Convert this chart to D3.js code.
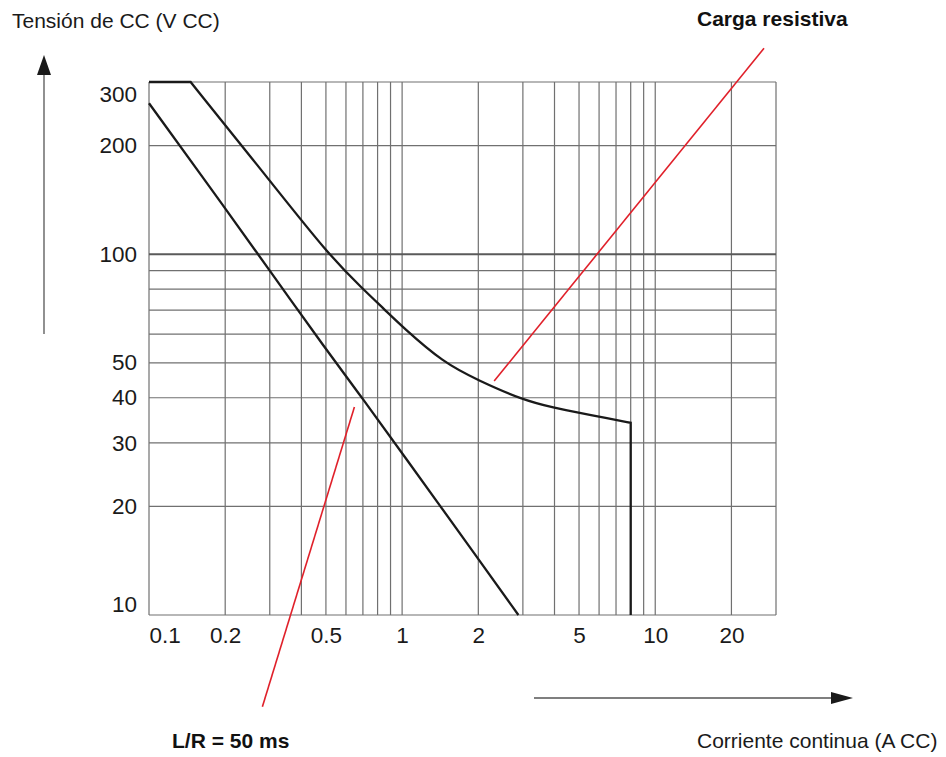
<!DOCTYPE html>
<html>
<head>
<meta charset="utf-8">
<script src="https://cdn.jsdelivr.net/npm/d3@7"></script>
<style>
  body { margin: 0; background: #fff; }
  svg { display: block; font-family: "Liberation Sans", Arial, sans-serif; }
</style>
</head>
<body>
<div id="chart"></div>
<script>
// tick labels and grid
const xTicks = [0.1, 0.2, 0.5, 1, 2, 5, 10, 20];
const yTicks = [10, 20, 30, 40, 50, 100, 200, 300];
const xGrid = [0.1, 0.2, 0.3, 0.4, 0.5, 0.6, 0.7, 0.8, 0.9, 1, 2, 3, 4, 5, 6, 7, 8, 9, 10, 20, 30];
const yGrid = [10, 20, 30, 40, 50, 60, 70, 80, 90, 100, 200, 300];

// resistive load curve (A, V): flat top, smooth bend, vertical drop
const resistiveI = [0.1, 0.146, 0.3, 0.51, 0.7, 0.857, 1.0, 1.456, 2.0, 3.0, 4.0, 5.0, 6.5, 8.0, 8.0];
const resistiveV = [300, 300, 160, 100, 80, 70, 63, 50, 44.7, 39.4, 37.5, 36.3, 35.1, 34.1, 10];

// L/R = 50 ms curve
const lrI = [0.1, 0.2, 0.3, 0.5, 0.7, 1, 2, 2.88];
const lrV = [262, 134, 90, 54.5, 39.7, 28.1, 14.3, 10];

// annotation pointers (data coords)
const resPointerI = [26.9, 2.31];
const resPointerV = [372, 44.5];
const lrPointerI = [0.648, 0.2805];
const lrPointerV = [37.7, 5.57];

const margin = {top: 82, right: 170, bottom: 142, left: 149},
    width = 776 - margin.left,
    height = 615 - margin.top;

const svg = d3.select("#chart").append("svg")
    .attr("width", 946)
    .attr("height", 757);

const g = svg.append("g")
    .attr("transform", "translate(" + margin.left + "," + margin.top + ")");

const x = d3.scaleLog().domain([0.1, 30]).range([0, width]);
const y = d3.scaleLog().domain([10, 300]).range([height, 0]);

// grid
g.selectAll(".vgrid").data(xGrid).enter().append("line")
    .attr("x1", d => x(d)).attr("x2", d => x(d))
    .attr("y1", 0).attr("y2", height)
    .attr("stroke", "#707070").attr("stroke-width", 1.2);

g.selectAll(".hgrid").data(yGrid).enter().append("line")
    .attr("x1", 0).attr("x2", width)
    .attr("y1", d => y(d)).attr("y2", d => y(d))
    .attr("stroke", d => d === 100 ? "#5a5a5a" : "#707070")
    .attr("stroke-width", d => d === 100 ? 2 : 1.2);

// axes
const xAxis = g.append("g")
    .attr("transform", "translate(0," + height + ")")
    .call(d3.axisBottom(x).tickValues(xTicks).tickFormat(d => d).tickSize(0).tickPadding(12));
const yAxis = g.append("g")
    .call(d3.axisLeft(y).tickValues(yTicks).tickFormat(d => d).tickSize(0).tickPadding(12));

[xAxis, yAxis].forEach(a => {
    a.select(".domain").remove();
    a.selectAll("text").attr("font-size", 22.5).attr("fill", "#1a1a1a")
        .attr("font-family", "Liberation Sans, Arial, sans-serif");
});
xAxis.selectAll("text").filter(d => d === 0.1).attr("text-anchor", "start");
yAxis.selectAll("text").filter(d => d === 300).attr("dy", 19.7);
yAxis.selectAll("text").filter(d => d === 10).attr("dy", -3.3);

// curves
const line = d3.line().x(d => x(d[0])).y(d => y(d[1]));
const smooth = d3.line().x(d => x(d[0])).y(d => y(d[1])).curve(d3.curveBasis);

const res = resistiveI.map((d, i) => [d, resistiveV[i]]);
const n = res.length;
const resPath = line(res.slice(0, 2)) + smooth(res.slice(1, n - 1)).replace(/^M/, "L") + line(res.slice(n - 2)).replace(/^M/, "L");

g.append("path")
    .attr("d", resPath)
    .attr("fill", "none").attr("stroke", "#1a1a1a").attr("stroke-width", 2.3)
    .attr("stroke-linejoin", "miter");

g.append("path")
    .datum(lrI.map((d, i) => [d, lrV[i]]))
    .attr("d", smooth)
    .attr("fill", "none").attr("stroke", "#1a1a1a").attr("stroke-width", 2.3);

// red pointers
[[resPointerI, resPointerV], [lrPointerI, lrPointerV]].forEach(p => {
    g.append("path")
        .datum(p[0].map((d, i) => [d, p[1][i]]))
        .attr("d", line)
        .attr("fill", "none").attr("stroke", "#e0202a").attr("stroke-width", 1.6);
});

// axis arrows
svg.append("line")
    .attr("x1", 44).attr("x2", 44).attr("y1", 334).attr("y2", 74)
    .attr("stroke", "#555").attr("stroke-width", 1.3);
svg.append("path").attr("d", "M37,75 L44,55 L51,75 Z").attr("fill", "#1a1a1a");

svg.append("line")
    .attr("x1", 534).attr("x2", 833).attr("y1", 698).attr("y2", 698)
    .attr("stroke", "#555").attr("stroke-width", 1.3);
svg.append("path").attr("d", "M831,692 L853,698 L831,704 Z").attr("fill", "#1a1a1a");

// titles
svg.append("text").attr("x", 12).attr("y", 28)
    .attr("font-size", 21).attr("fill", "#1a1a1a")
    .text("Tensión de CC (V CC)");
svg.append("text").attr("x", 697).attr("y", 26)
    .attr("font-size", 21).attr("font-weight", "bold").attr("fill", "#111")
    .text("Carga resistiva");
svg.append("text").attr("x", 172).attr("y", 748)
    .attr("font-size", 21).attr("font-weight", "bold").attr("fill", "#111")
    .text("L/R = 50 ms");
svg.append("text").attr("x", 697).attr("y", 748)
    .attr("font-size", 21).attr("fill", "#1a1a1a")
    .text("Corriente continua (A CC)");
</script>
</body>
</html>
